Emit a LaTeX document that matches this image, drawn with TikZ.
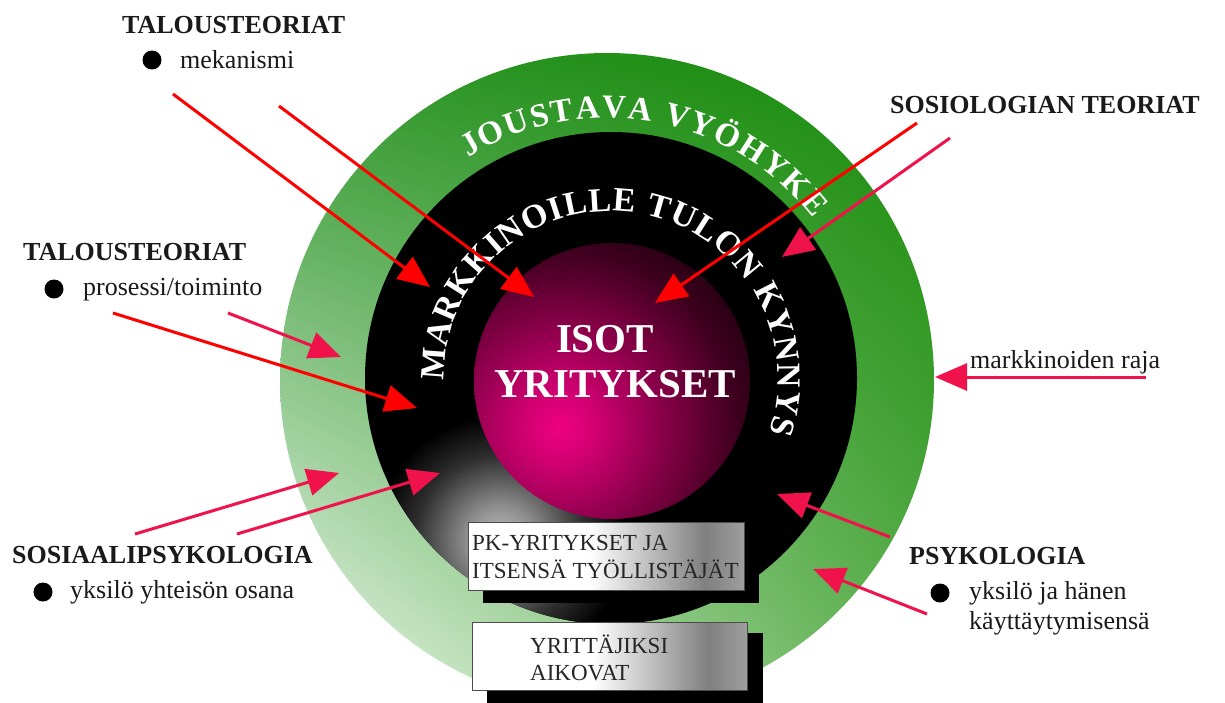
\documentclass[tikz,border=0pt]{standalone}
\usepackage{fontspec}
\setmainfont{Liberation Serif}
\usetikzlibrary{arrows.meta,decorations.text,shadings}
\definecolor{arrRed}{HTML}{FF0000}
\definecolor{arrPink}{HTML}{F0124A}
\definecolor{gUL}{HTML}{2E962A}
\definecolor{gUR}{HTML}{168A08}
\definecolor{gLL}{HTML}{F4FBF4}
\definecolor{gLR}{HTML}{5DB04E}
\definecolor{sphA}{HTML}{F00080}
\definecolor{sphB}{HTML}{D00070}
\definecolor{sphC}{HTML}{8A004A}
\definecolor{sphD}{HTML}{40001F}
\definecolor{sphE}{HTML}{1A000C}
\definecolor{txt}{HTML}{1A1A1A}
\pgfdeclareradialshading{spheresh}{\pgfpoint{0bp}{0bp}}{color(0bp)=(sphA); color(4bp)=(sphB); color(11bp)=(sphC); color(19bp)=(sphD); color(25bp)=(sphE); color(50bp)=(sphE)}
\pgfdeclareradialshading{glowsh}{\pgfpoint{0bp}{0bp}}{color(0bp)=(black!24); color(7bp)=(black!45); color(17bp)=(black!82); color(25bp)=(black); color(50bp)=(black)}
\pgfdeclarehorizontalshading{boxsh}{100bp}{color(0bp)=(white); color(47bp)=(white); color(68bp)=(black!50); color(75bp)=(black!38); color(100bp)=(black!38)}
\begin{document}
\begin{tikzpicture}[x=1pt,y=-1pt,
  lab/.style={font=\fontsize{26}{28}\selectfont\bfseries, text=txt, inner sep=0pt, anchor=base west},
  sub/.style={font=\fontsize{26}{28}\selectfont, text=txt, inner sep=0pt, anchor=base west},
  bul/.style={circle, fill=black, minimum size=19pt, inner sep=0pt},
  redarr/.style={draw=arrRed, line width=3pt, -{Triangle[length=32pt,width=27pt]}},
  pinkarr/.style={draw=arrPink, line width=3pt, -{Triangle[length=32pt,width=27pt]}},
  boxtxt/.style={font=\fontsize{23}{28}\selectfont, text=black!85, inner sep=0pt, anchor=base west},
  mid/.style={font=\fontsize{41}{45}\selectfont\bfseries, text=white, inner sep=0pt, anchor=base},
  shadowbox/.style={fill=black},
  greybox/.style={shading=boxsh, draw=black!70, line width=1pt},
]
\useasboundingbox (0,0) rectangle (1225,702);
\fill[white] (0,0) rectangle (1225,702);

% rings
\coordinate (gc) at (607,380);
\coordinate (bc) at (611,378);
\coordinate (sc) at (612,381);
\shade[upper left=gUL, upper right=gUR, lower left=gLL, lower right=gLR] (gc) circle (327);
\fill[black] (bc) circle (246);
\begin{scope}
  \clip (bc) circle (246);
  \shade[shading=glowsh] (500,540) circle (125);
\end{scope}
\begin{scope}
  \clip (sc) circle (138);
  \shade[shading=spheresh] (560,427) circle (230);
\end{scope}

% arc texts
\path[decorate, decoration={text along path, text align=fit to path, text color=white,
  text={|\bfseries\fontsize{33}{33}\selectfont|JOUSTAVA VYÖHYKE}}]
  (gc) ++(-122:262) arc[start angle=-122, end angle=-38, radius=262];
\path[decorate, decoration={text along path, text align=fit to path, text color=white,
  text={|\bfseries\fontsize{34}{34}\selectfont|MARKKINOILLE TULON KYNNYS}}]
  (bc) ++(-181:167) arc[start angle=-181, end angle=19, radius=167];

% centre text
\node[mid] (isot) at (605,352) {ISOT};
\node[mid] (yrit) at (615,397) {YRITYKSET};

% boxes
\fill[shadowbox] (483,535) rectangle (759,603);
\shadedraw[greybox] (468,522) rectangle (744,590);
\node[boxtxt] (pk1) at (472,550) {PK-YRITYKSET JA};
\node[boxtxt] (pk2) at (472,578) {ITSENSÄ TYÖLLISTÄJÄT};
\fill[shadowbox] (487,633) rectangle (763,712);
\shadedraw[greybox] (472,622) rectangle (747,690);
\node[boxtxt] (yr1) at (530,653) {YRITTÄJIKSI};
\node[boxtxt] (yr2) at (530,680) {AIKOVAT};

% labels
\node[lab] (t1) at (122,33) {TALOUSTEORIAT};
\node[bul] (b1) at (152,60) {};
\node[sub] (s1) at (180,68) {mekanismi};
\node[lab] (t2) at (23,260) {TALOUSTEORIAT};
\node[bul] (b2) at (54,289) {};
\node[sub] (s2) at (83,295) {prosessi/toiminto};
\node[lab] (t3) at (12,563) {SOSIAALIPSYKOLOGIA};
\node[bul] (b3) at (43,592) {};
\node[sub] (s3) at (70,598) {yksilö yhteisön osana};
\node[lab] (t4) at (890,113) {SOSIOLOGIAN TEORIAT};
\node[sub] (s4) at (970,368) {markkinoiden raja};
\node[lab] (t5) at (909,564) {PSYKOLOGIA};
\node[bul] (b5) at (940,593) {};
\node[sub] (s5) at (969,599) {yksilö ja hänen};
\node[sub] (s6) at (969,629) {käyttäytymisensä};

% arrow ends
\coordinate (a1s) at (173,94);   \coordinate (a1e) at (430,287);
\coordinate (a2s) at (279,106);  \coordinate (a2e) at (534,297);
\coordinate (a3s) at (113,313);  \coordinate (a3e) at (417,408);
\coordinate (a4s) at (228,313);  \coordinate (a4e) at (341,357);
\coordinate (a5s) at (135,534);  \coordinate (a5e) at (339,473);
\coordinate (a6s) at (237,534);  \coordinate (a6e) at (440,473);
\coordinate (a7s) at (917,123);  \coordinate (a7e) at (655,303);
\coordinate (a8s) at (950,138);  \coordinate (a8e) at (782,257);
\coordinate (a9s) at (1146,377); \coordinate (a9e) at (935,377);
\coordinate (a10s) at (890,537); \coordinate (a10e) at (777,494);
\coordinate (a11s) at (927,614); \coordinate (a11e) at (813,569);

\draw[redarr] (a1s) -- (a1e);
\draw[redarr] (a2s) -- (a2e);
\draw[redarr] (a3s) -- (a3e);
\draw[pinkarr] (a4s) -- (a4e);
\draw[pinkarr] (a5s) -- (a5e);
\draw[pinkarr] (a6s) -- (a6e);
\draw[redarr] (a7s) -- (a7e);
\draw[pinkarr] (a8s) -- (a8e);
\draw[pinkarr] (a9s) -- (a9e);
\draw[pinkarr] (a10s) -- (a10e);
\draw[pinkarr] (a11s) -- (a11e);
\end{tikzpicture}
\end{document}
